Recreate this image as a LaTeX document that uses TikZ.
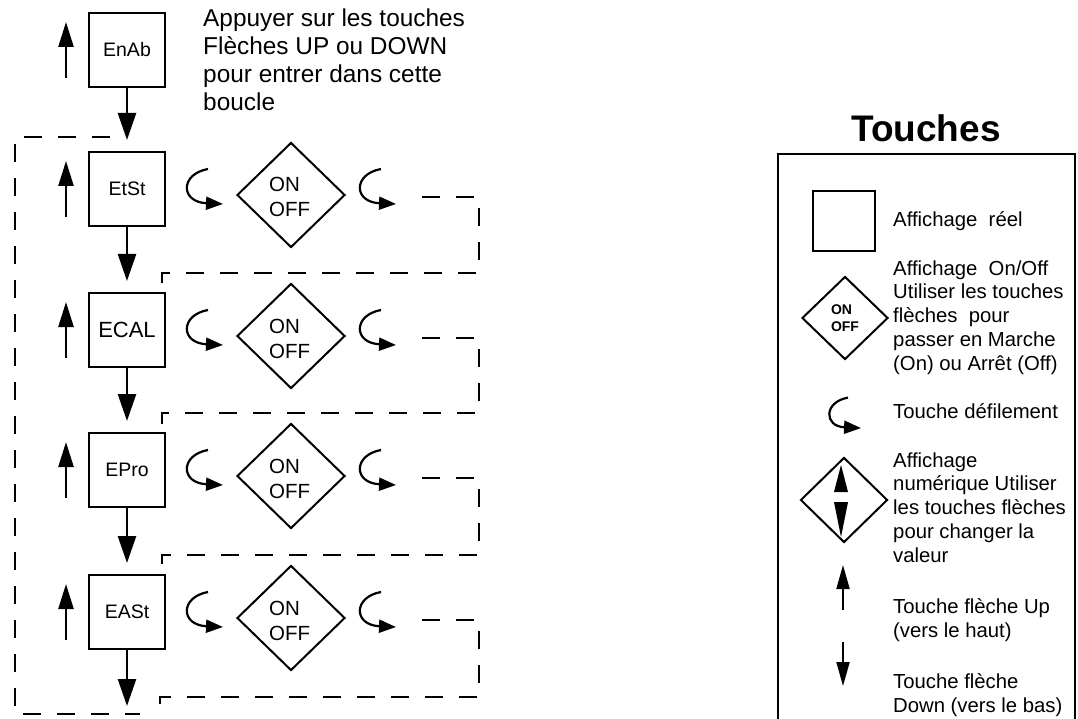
\documentclass[tikz,border=0pt]{standalone}
\usepackage{fontspec}
\setmainfont{Liberation Sans}
\usetikzlibrary{arrows.meta,shapes.geometric,calc}
\tikzset{
  dispbox/.style={draw,line width=2pt,minimum width=76pt,minimum height=74pt,inner sep=0pt,font=\fontsize{19.5}{22}\selectfont},
  onoff/.style={draw,diamond,line width=2pt,minimum width=108pt,minimum height=105pt,inner sep=0pt},
  onofftxt/.style={inner sep=0pt,anchor=base west,font=\fontsize{20.5}{25}\selectfont},
  uparrow/.style={line width=2.5pt,-{Triangle[length=25pt,width=15pt]}},
  downarrow/.style={line width=2.5pt,-{Triangle[length=27pt,width=18pt]}},
  loopline/.style={line width=2.2pt,dash pattern=on 18pt off 16pt},
  txt/.style={inner sep=0pt,anchor=base west,font=\fontsize{24.4}{28}\selectfont},
  legtxt/.style={inner sep=0pt,anchor=base west,font=\fontsize{20.3}{23}\selectfont},
  scrollkey/.pic={
    \draw[line width=2.2pt,-{Triangle[length=17pt,width=13pt]}] (0,-20) .. controls (-28,-15) and (-28,13) .. (15,15);
  }
}
\begin{document}
\begin{tikzpicture}[x=1pt,y=-1pt]
\useasboundingbox (0,0) rectangle (1078,719);
% boxes
\node[dispbox] (b0) at (127,50) {EnAb};
\node[dispbox] (b1) at (127,189) {EtSt};
\node[dispbox,font=\fontsize{22}{24}\selectfont] (b2) at (127,330) {ECAL};
\node[dispbox] (b3) at (127,470) {EPro};
\node[dispbox] (b4) at (127,612) {EASt};
% up arrows
\foreach \b in {b0,b1,b2,b3,b4}{
  \draw[uparrow] ($(\b.west)+(-22,28)$) -- ($(\b.west)+(-22,-28)$);
}
% down arrows
\draw[downarrow] (b0.south) -- ($(b1.north)+(0,-11)$);
\draw[downarrow] (b1.south) -- ($(b2.north)+(0,-11)$);
\draw[downarrow] (b2.south) -- ($(b3.north)+(0,-11)$);
\draw[downarrow] (b3.south) -- ($(b4.north)+(0,-11)$);
\coordinate (bend) at ($(b4.south)+(0,56)$);
\draw[downarrow] (b4.south) -- (bend);
% diamonds and scroll keys
\foreach \y [count=\i] in {189,330,470,612}{
  \node[onoff] (d\i) at (291,\y+6) {};
  \node[onofftxt] (on\i) at (269,\y+3) {ON};
  \node[onofftxt] (off\i) at (269,\y+28) {OFF};
  \pic at (208,\y) {scrollkey};
  \pic at (381,\y) {scrollkey};
}
% dashed loops per row
\foreach \y/\n [count=\i] in {189/b2,330/b3,470/b4}{
  \coordinate (s\i) at (422,\y+8);
  \draw[loopline] (s\i) -- (479,\y+8) |- ($(\n.north east)+(-4,-19)$) -- ($(\n.north east)+(-4,0)$);
}
\coordinate (s4) at (422,620);
\coordinate (send) at (160,719);
\draw[loopline] (s4) -- (479,620) -- (479,697) -- (160,697) -- (send);
% outer loop
\coordinate (o1) at (110,137);
\coordinate (o2) at (140,714);
\draw[loopline] (o1) -- (15,137) -- (15,714) -- (o2);
% instruction text
\foreach \t [count=\i] in {{Appuyer sur les touches},{Flèches UP ou DOWN},{pour entrer dans cette},{boucle}}{
  \node[txt] (ins\i) at (203,{27+(\i-1)*27.7}) {\t};
}
% legend
\node[anchor=base,inner sep=0pt,font=\bfseries\fontsize{37}{42}\selectfont] (title) at (926,142) {Touches};
\draw[line width=1.8pt] (778,725) -- (778,154) -- (1075,154) -- (1075,725);
\node[draw,line width=2pt,minimum width=62pt,minimum height=60pt,inner sep=0pt] (lsq) at (844,221) {};
\node[legtxt] (l1) at (893,227) {Affichage\ \ réel};
\node[draw,diamond,line width=2pt,minimum width=86pt,minimum height=83pt,inner sep=0pt,align=left,font=\bfseries\fontsize{14}{17}\selectfont] (ldia) at (845,318) {ON\\OFF};
\foreach \t [count=\i] in {{Affichage\ \ On/Off},{Utiliser les touches},{flèches\ \ pour},{passer en Marche},{(On) ou Arrêt (Off)}}{
  \node[legtxt] (l2-\i) at (893,{275+(\i-1)*23.75}) {\t};
}
\pic[scale=0.87] at (848,415) {scrollkey};
\node[legtxt] (l3) at (893,418) {Touche défilement};
\node[draw,diamond,line width=2pt,minimum width=87pt,minimum height=85pt,inner sep=0pt] (lnum) at (844,500) {};
\fill (841,465) -- (848,492) -- (834,492) -- cycle;
\fill (841,537) -- (848,502) -- (834,502) -- cycle;
\foreach \t [count=\i] in {{Affichage},{numérique Utiliser},{les touches flèches},{pour changer la},{valeur}}{
  \node[legtxt] (l4-\i) at (893,{467+(\i-1)*23.75}) {\t};
}
\coordinate (lu1) at (843,610);
\coordinate (lu2) at (843,565);
\draw[line width=2pt,-{Triangle[length=24pt,width=13pt]}] (lu1) -- (lu2);
\node[legtxt] (l5-1) at (893,613) {Touche flèche Up};
\node[legtxt] (l5-2) at (893,637) {(vers le haut)};
\coordinate (ld1) at (843,642);
\coordinate (ld2) at (843,686);
\draw[line width=2pt,-{Triangle[length=24pt,width=13pt]}] (ld1) -- (ld2);
\node[legtxt] (l6-1) at (893,688) {Touche flèche};
\node[legtxt] (l6-2) at (893,712) {Down (vers le bas)};
\end{tikzpicture}
\end{document}
